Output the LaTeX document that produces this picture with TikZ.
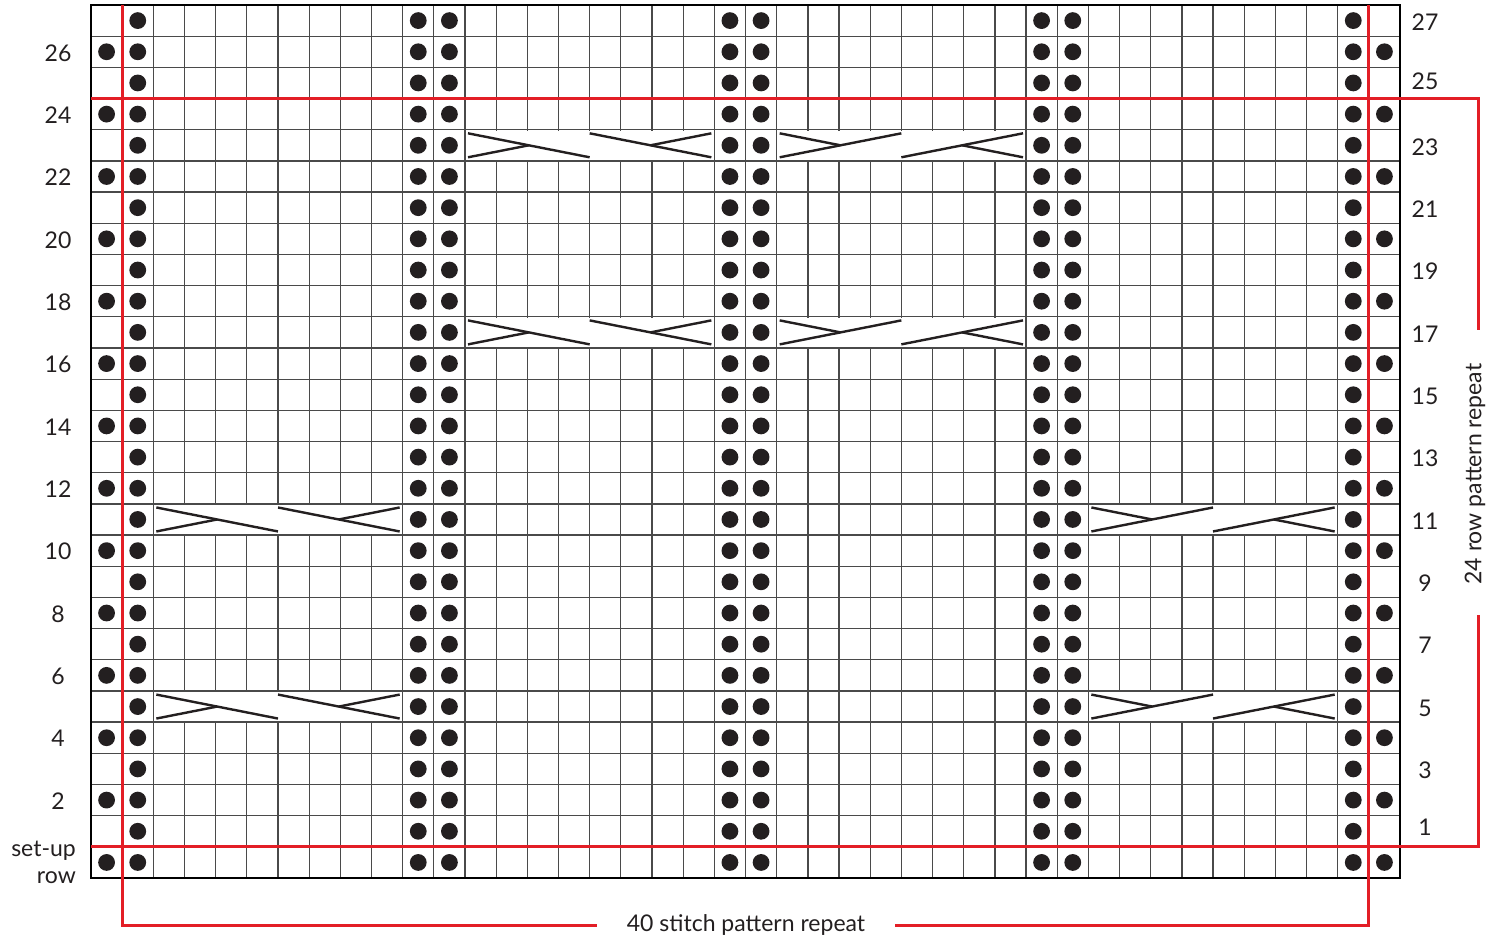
\documentclass[tikz,border=0pt]{standalone}
\usepackage{fontspec}
\setmainfont{Lato}
\definecolor{chartred}{HTML}{E31E26}
\definecolor{gridgray}{HTML}{4A4A4A}
\definecolor{ink}{HTML}{231F20}
\tikzset{
  gridline/.style={gridgray, line width=1.3pt},
  cableline/.style={ink, line width=2.4pt},
  redline/.style={chartred, line width=3pt},
  stitchdot/.style={fill=ink},
  lab/.style={font=\fontsize{23}{26}\selectfont, text=ink, inner sep=0pt},
}
\newcommand{\cablesym}[3]{%
  \pgfmathsetmacro\cL{91+(#1-1)*31.167}%
  \pgfmathsetmacro\cR{\cL+8*31.167}%
  \pgfmathsetmacro\cT{5+#2*31.18}%
  \pgfmathsetmacro\cB{\cT+31.18}%
  \pgfmathsetmacro\ca{\cL+3}%
  \pgfmathsetmacro\cb{\cR-3}%
  \pgfmathsetmacro\cm{(\cL+\cR)/2}%
  \pgfmathsetmacro\ct{\cT+3.6}%
  \pgfmathsetmacro\cbo{\cB-3.6}%
  \pgfmathsetmacro\cy{(\cT+\cB)/2}%
  \pgfmathsetmacro\cql{(\ca+\cm)/2}%
  \pgfmathsetmacro\cqr{(\cm+\cb)/2}%
  \fill[white] ({\cL+1},{\cT+1}) rectangle ({\cR-1},{\cB-1});
  \ifnum#3=0
    \draw[cableline] (\ca,\ct) -- (\cm,\cbo);
    \draw[cableline] (\ca,\cbo) -- (\cql,\cy);
    \draw[cableline] (\cm,\ct) -- (\cb,\cbo);
    \draw[cableline] (\cb,\ct) -- (\cqr,\cy);
  \else
    \draw[cableline] (\ca,\ct) -- (\cql,\cy);
    \draw[cableline] (\ca,\cbo) -- (\cm,\ct);
    \draw[cableline] (\cm,\cbo) -- (\cb,\ct);
    \draw[cableline] (\cb,\cbo) -- (\cqr,\cy);
  \fi
}
\begin{document}
\begin{tikzpicture}[x=1pt,y=-1pt]
\useasboundingbox (0,0) rectangle (1489,939);
% grid
\foreach \k in {1,...,27}
  \draw[gridline] (91,{5+\k*31.18}) -- (1400,{5+\k*31.18});
\foreach \j in {1,...,41}
  \draw[gridline] ({91+\j*31.167},5) -- ({91+\j*31.167},878);
% cables
\cablesym{13}{4}{0}
\cablesym{23}{4}{1}
\cablesym{13}{10}{0}
\cablesym{23}{10}{1}
\cablesym{3}{16}{0}
\cablesym{33}{16}{1}
\cablesym{3}{22}{0}
\cablesym{33}{22}{1}
% dots
\foreach \k in {0,...,27}{
  \foreach \c in {2,11,12,21,22,31,32,41}
    \fill[stitchdot] ({91+(\c-0.5)*31.167},{5+(\k+0.5)*31.18}) circle[radius=8.4pt];
}
\foreach \k in {1,3,...,27}{
  \foreach \c in {1,42}
    \fill[stitchdot] ({91+(\c-0.5)*31.167},{5+(\k+0.5)*31.18}) circle[radius=8.4pt];
}
% border
\draw[black, line width=2pt] (91,5) rectangle (1400,878);
% red repeat lines
\draw[redline] (91,98.5) -- (1478,98.5) -- (1478,330);
\draw[redline] (91,846.9) -- (1478,846.9) -- (1478,615);
\draw[redline] (122.2,5) -- (122.2,925) -- (597,925);
\draw[redline] (1368.8,5) -- (1368.8,925) -- (895,925);
% labels
\foreach \n in {2,4,...,26}
  \node[lab] (l\n) at (58,{6+(27-\n+0.5)*31.18}) {\n};
\foreach \n in {3,5,7,9,11,13,15,17,19,21,23,27}
  \node[lab] (r\n) at (1425,{6.5+(27-\n+0.5)*31.18}) {\n};
\node[lab] (r25) at (1425,81.5) {25};
\node[lab] (r1) at (1425,827.5) {1};
\node[lab, align=right, anchor=east] (setup) at (76,862) {set-up\\[1pt]row};
\node[lab] (stitchrep) at (746,925) {40 stitch pattern repeat};
\node[lab, rotate=90] (rowrep) at (1475,474) {24 row pattern repeat};
\end{tikzpicture}
\end{document}
